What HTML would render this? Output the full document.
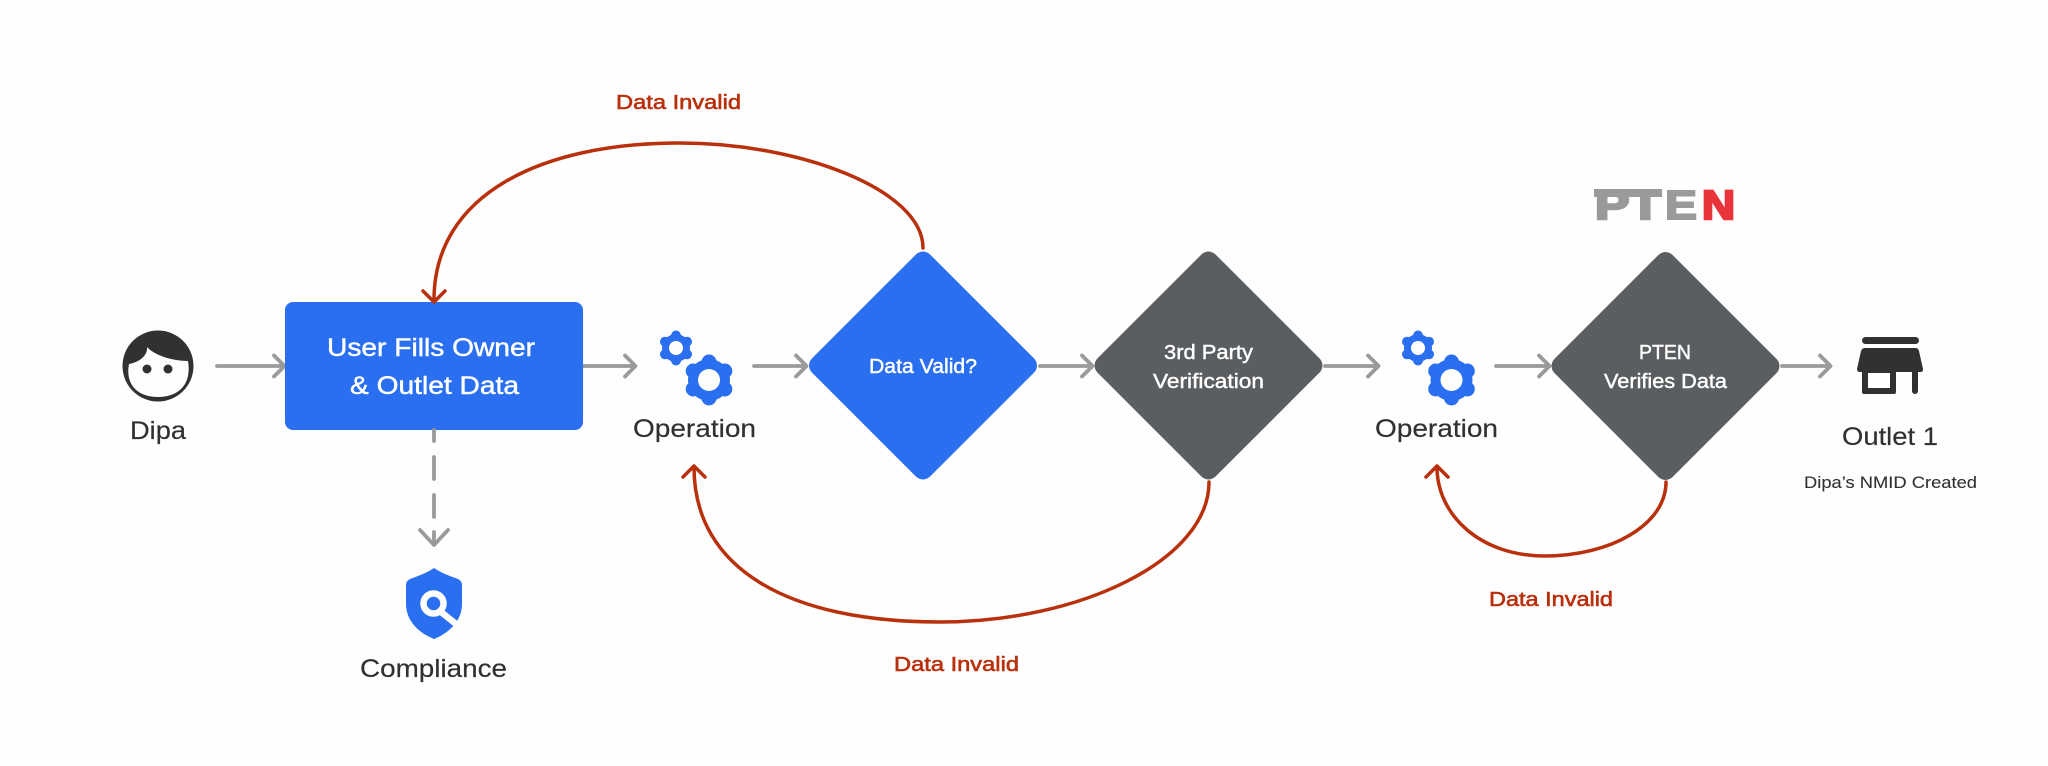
<!DOCTYPE html>
<html><head><meta charset="utf-8"><style>
html,body{margin:0;padding:0;background:#fefefe;width:2048px;height:766px;overflow:hidden}
svg{display:block}
text{font-family:"Liberation Sans",sans-serif}
.dk{fill:#2f3133;font-size:25px;stroke:#2f3133;stroke-width:.2}
.wh{fill:#fff;font-size:20px;stroke:#fff;stroke-width:.45}
.rd{fill:#b9300c;font-size:20px;stroke:#b9300c;stroke-width:.6}
.ar{fill:none;stroke:#9a9a9a;stroke-width:3.8;stroke-linecap:round;stroke-linejoin:round}
.cv{fill:none;stroke:#b9300c;stroke-width:3.5;stroke-linecap:round;stroke-linejoin:round}
</style></head><body>
<svg width="2048" height="766" viewBox="0 0 2048 766" xmlns="http://www.w3.org/2000/svg">
<defs>
<g id="gs"><g fill="#2a6ff0"><circle r="14"/><circle cy="-12.500" r="5"/><circle cy="12.500" r="5"/><circle cx="11" cy="-6.300" r="5"/><circle cx="11" cy="6.300" r="5"/><circle cx="-11" cy="-6.300" r="5"/><circle cx="-11" cy="6.300" r="5"/></g><circle r="7" fill="#fefefe"/></g>
<g id="gb"><g fill="#2a6ff0"><circle r="21"/><circle cy="-18" r="7.500"/><circle cy="18" r="7.500"/><circle cx="15.800" cy="-9" r="7.500"/><circle cx="15.800" cy="9" r="7.500"/><circle cx="-15.800" cy="-9" r="7.500"/><circle cx="-15.800" cy="9" r="7.500"/></g><circle r="11" fill="#fefefe"/></g>
</defs>

<!-- Dipa -->
<circle cx="158" cy="366" r="35.500" fill="#2f3133"/>
<path d="M129 364 C140 362 148 355 147 347 C153 354 170 361 188 361 C192 385 178 397 158 397 C138 397 125 385 129 364Z" fill="#fefefe"/>
<circle cx="147" cy="369" r="4.500" fill="#2f3133"/><circle cx="168" cy="369" r="4.500" fill="#2f3133"/>
<text class="dk" x="130" y="439" textLength="56" lengthAdjust="spacingAndGlyphs">Dipa</text>

<!-- arrows -->
<path class="ar" d="M217 366H284M274 355.500L284.500 366L274 376.500"/>
<path class="ar" d="M583 366H635M625 355.500L635.500 366L625 376.500"/>
<path class="ar" d="M754 366H806M796 355.500L806.500 366L796 376.500"/>
<path class="ar" d="M1040 366H1092M1082 355.500L1092.500 366L1082 376.500"/>
<path class="ar" d="M1325 366H1378M1368 355.500L1378.500 366L1368 376.500"/>
<path class="ar" d="M1496 366H1549M1539 355.500L1549.500 366L1539 376.500"/>
<path class="ar" d="M1782 366H1830M1820 355.500L1830.500 366L1820 376.500"/>

<!-- main box -->
<rect x="285" y="302" width="298" height="128" rx="8" fill="#2a6ff0"/>
<text class="wh" style="font-size:25px" x="327" y="356" textLength="208" lengthAdjust="spacingAndGlyphs">User Fills Owner</text>
<text class="wh" style="font-size:25px" x="350" y="394" textLength="169" lengthAdjust="spacingAndGlyphs">&amp; Outlet Data</text>

<!-- dashed -->
<path class="ar" d="M434 430V441M434 457V479M434 495V517M434 532V545M420 530L434 545L448 530"/>

<!-- compliance -->
<path d="M434 568 C441 573 450 576 458 579 Q462 581 462 585 L462 604 C462 621 449 633 434 639 C419 633 406 621 406 604 L406 585 Q406 581 410 579 C418 576 427 573 434 568Z" fill="#2a6ff0"/>
<circle cx="433.500" cy="603.500" r="10" fill="none" stroke="#fefefe" stroke-width="6.500"/>
<path d="M441 612 L456 624" stroke="#fefefe" stroke-width="6.500" fill="none"/>
<text class="dk" x="360" y="677" textLength="147" lengthAdjust="spacingAndGlyphs">Compliance</text>

<!-- gears 1 -->
<use href="#gs" x="676" y="348"/><use href="#gb" x="709" y="380"/>
<text class="dk" x="633" y="437" textLength="123" lengthAdjust="spacingAndGlyphs">Operation</text>

<!-- diamonds -->
<rect x="-83.500" y="-83.500" width="167" height="167" rx="10" fill="#2a6ff0" transform="translate(923 365.500) rotate(45)"/>
<text class="wh" x="869" y="373" textLength="108" lengthAdjust="spacingAndGlyphs">Data Valid?</text>
<rect x="-83.500" y="-83.500" width="167" height="167" rx="10" fill="#5b5e61" transform="translate(1208.500 365.500) rotate(45)"/>
<text class="wh" x="1164" y="359" textLength="89" lengthAdjust="spacingAndGlyphs">3rd Party</text>
<text class="wh" x="1153" y="388" textLength="111" lengthAdjust="spacingAndGlyphs">Verification</text>
<rect x="-83.500" y="-83.500" width="167" height="167" rx="10" fill="#5b5e61" transform="translate(1665.500 366) rotate(45)"/>
<text class="wh" x="1639" y="359" textLength="52" lengthAdjust="spacingAndGlyphs">PTEN</text>
<text class="wh" x="1604" y="388" textLength="123" lengthAdjust="spacingAndGlyphs">Verifies Data</text>

<!-- gears 2 -->
<use href="#gs" x="1418" y="348"/><use href="#gb" x="1451.500" y="380"/>
<text class="dk" x="1375" y="437" textLength="123" lengthAdjust="spacingAndGlyphs">Operation</text>

<!-- store -->
<rect x="1862" y="337" width="57" height="7" rx="3.500" fill="#2f3133"/>
<path d="M1865 348H1916Q1918 348 1919 351L1923 369Q1923 372 1921 372H1860Q1857 372 1857 369L1861 351Q1862 348 1865 348Z" fill="#2f3133"/>
<path d="M1862 371H1896V392Q1896 394 1894 394H1864Q1862 394 1862 392Z" fill="#2f3133"/>
<rect x="1868" y="373" width="22" height="15" fill="#fefefe"/>
<path d="M1912 371H1918V391A3 3 0 0 1 1912 391Z" fill="#2f3133"/>
<text class="dk" x="1842" y="445" textLength="96" lengthAdjust="spacingAndGlyphs">Outlet 1</text>
<text class="dk" style="font-size:17px;stroke-width:.1" x="1804" y="488" textLength="173" lengthAdjust="spacingAndGlyphs">Dipa’s NMID Created</text>

<!-- PTEN logo -->
<text x="1595" y="219" font-size="41" font-weight="bold" fill="#999a9b" stroke="#999a9b" stroke-width="2.500" textLength="66" lengthAdjust="spacingAndGlyphs">PT</text>
<rect x="1594" y="189" width="68" height="8" fill="#999a9b"/>
<text x="1665" y="219" font-size="41" font-weight="bold" fill="#999a9b" stroke="#999a9b" stroke-width="2" textLength="32" lengthAdjust="spacingAndGlyphs">E</text>
<text x="1702" y="219" font-size="41" font-weight="bold" fill="#e8343a" stroke="#e8343a" stroke-width="2.500" textLength="33" lengthAdjust="spacingAndGlyphs">N</text>

<!-- red curves -->
<path class="cv" d="M923 248 C923 190 800 143 680 143 C540 143 434 195 434 300"/>
<path class="cv" d="M423 291L434 302L445 291"/>
<path class="cv" d="M1209 482 C1209 560 1080 622 940 622 C790 622 694 570 694 467"/>
<path class="cv" d="M683 477L694 466L705 477"/>
<path class="cv" d="M1666 482 C1666 525 1610 556 1545 556 C1480 556 1437 515 1437 467"/>
<path class="cv" d="M1426 477L1437 466L1448 477"/>

<text class="rd" x="616" y="109" textLength="125" lengthAdjust="spacingAndGlyphs">Data Invalid</text>
<text class="rd" x="894" y="671" textLength="125" lengthAdjust="spacingAndGlyphs">Data Invalid</text>
<text class="rd" x="1489" y="606" textLength="124" lengthAdjust="spacingAndGlyphs">Data Invalid</text>
</svg>
</body></html>
